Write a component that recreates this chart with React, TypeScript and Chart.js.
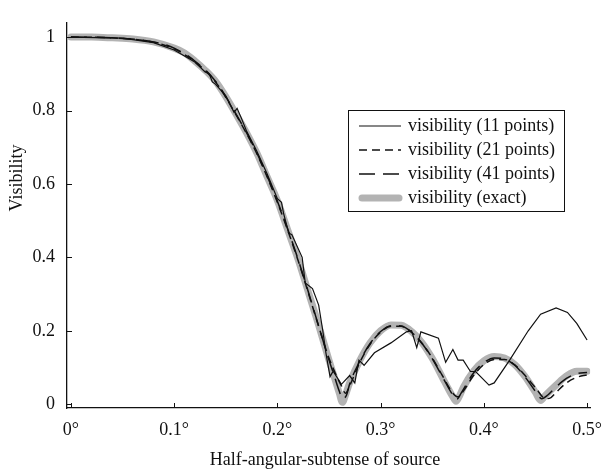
import React, { useEffect, useRef } from "react";
import { Chart, registerables } from "chart.js";

Chart.register(...registerables);

const xTicks = [0, 0.1, 0.2, 0.3, 0.4, 0.5];
const xTickLabels = ["0°", "0.1°", "0.2°", "0.3°", "0.4°", "0.5°"];
const yTicks = [0, 0.2, 0.4, 0.6, 0.8, 1];
const yTickLabels = ["0", "0.2", "0.4", "0.6", "0.8", "1"];

const seriesNames = [
  "visibility (11 points)",
  "visibility (21 points)",
  "visibility (41 points)",
  "visibility (exact)",
];

const exactX = [0, 0.02, 0.04, 0.06, 0.08, 0.1, 0.11, 0.12, 0.13, 0.14, 0.15, 0.16, 0.17, 0.18, 0.19, 0.2, 0.21, 0.22, 0.23, 0.24, 0.25, 0.255, 0.26, 0.263, 0.266, 0.27, 0.28, 0.29, 0.3, 0.31, 0.32, 0.33, 0.34, 0.35, 0.36, 0.365, 0.37, 0.373, 0.376, 0.38, 0.39, 0.4, 0.41, 0.42, 0.43, 0.44, 0.45, 0.455, 0.46, 0.47, 0.48, 0.49, 0.5];
const exactY = [1.0, 1.0, 0.998, 0.995, 0.987, 0.97, 0.957, 0.935, 0.91, 0.88, 0.838, 0.79, 0.74, 0.685, 0.62, 0.555, 0.475, 0.395, 0.305, 0.215, 0.12, 0.075, 0.03, 0.005, 0.025, 0.058, 0.12, 0.168, 0.2, 0.216, 0.215, 0.198, 0.168, 0.125, 0.072, 0.045, 0.02, 0.008, 0.02, 0.045, 0.09, 0.118, 0.13, 0.126, 0.108, 0.075, 0.032, 0.01, 0.025, 0.052, 0.077, 0.09, 0.09];

const pts41X = [0, 0.04, 0.08, 0.1, 0.12, 0.14, 0.16, 0.18, 0.2, 0.22, 0.24, 0.25, 0.255, 0.26, 0.263, 0.267, 0.27, 0.28, 0.29, 0.3, 0.31, 0.32, 0.33, 0.34, 0.35, 0.36, 0.37, 0.374, 0.378, 0.39, 0.4, 0.41, 0.42, 0.43, 0.44, 0.45, 0.456, 0.462, 0.47, 0.48, 0.49, 0.5];
const pts41Y = [1.0, 0.998, 0.987, 0.97, 0.935, 0.88, 0.79, 0.685, 0.553, 0.395, 0.213, 0.12, 0.078, 0.035, 0.015, 0.025, 0.055, 0.118, 0.166, 0.198, 0.214, 0.213, 0.196, 0.166, 0.124, 0.074, 0.025, 0.014, 0.03, 0.085, 0.113, 0.126, 0.123, 0.106, 0.074, 0.035, 0.015, 0.025, 0.047, 0.07, 0.083, 0.086];

const pts21X = [0, 0.04, 0.08, 0.1, 0.12, 0.14, 0.16, 0.18, 0.2, 0.22, 0.24, 0.25, 0.256, 0.262, 0.266, 0.27, 0.28, 0.29, 0.3, 0.31, 0.32, 0.33, 0.34, 0.35, 0.36, 0.37, 0.375, 0.38, 0.39, 0.4, 0.41, 0.42, 0.43, 0.44, 0.45, 0.46, 0.465, 0.47, 0.48, 0.49, 0.5];
const pts21Y = [1.0, 0.998, 0.986, 0.968, 0.933, 0.878, 0.788, 0.683, 0.55, 0.392, 0.212, 0.125, 0.085, 0.05, 0.03, 0.05, 0.115, 0.164, 0.196, 0.212, 0.212, 0.196, 0.166, 0.126, 0.077, 0.03, 0.02, 0.035, 0.078, 0.108, 0.122, 0.122, 0.107, 0.078, 0.045, 0.015, 0.018, 0.032, 0.058, 0.073, 0.08];

const pts11X = [0, 0.05, 0.08, 0.1, 0.12, 0.13, 0.134, 0.137, 0.14, 0.15, 0.155, 0.158, 0.161, 0.165, 0.17, 0.18, 0.19, 0.2, 0.204, 0.206, 0.211, 0.214, 0.224, 0.227, 0.234, 0.24, 0.244, 0.247, 0.251, 0.254, 0.262, 0.27, 0.275, 0.279, 0.284, 0.294, 0.31, 0.325, 0.33, 0.335, 0.339, 0.356, 0.363, 0.37, 0.375, 0.38, 0.387, 0.392, 0.405, 0.41, 0.425, 0.443, 0.455, 0.47, 0.481, 0.49, 0.5];
const pts11Y = [1.0, 0.997, 0.985, 0.965, 0.932, 0.905, 0.9, 0.878, 0.872, 0.84, 0.812, 0.795, 0.806, 0.78, 0.745, 0.69, 0.628, 0.56, 0.55, 0.52, 0.466, 0.462, 0.4, 0.33, 0.315, 0.27, 0.2, 0.14, 0.075, 0.09, 0.054, 0.078, 0.058, 0.12, 0.106, 0.14, 0.167, 0.197, 0.2, 0.154, 0.197, 0.18, 0.114, 0.149, 0.12, 0.12, 0.089, 0.089, 0.052, 0.058, 0.12, 0.2, 0.245, 0.262, 0.25, 0.22, 0.175];

const toPts = (xs: number[], ys: number[]) => xs.map((x, i) => ({ x, y: ys[i] }));

const FONT = "'Liberation Serif', 'DejaVu Serif', serif";
const INK = "#111111";
const GREY = "#b3b3b3";

const legendStyles = [
  { color: INK, width: 1.2, dash: [] as number[], cap: "butt" as CanvasLineCap },
  { color: INK, width: 1.5, dash: [8, 5], cap: "butt" as CanvasLineCap },
  { color: INK, width: 1.5, dash: [16, 8], cap: "butt" as CanvasLineCap },
  { color: GREY, width: 7, dash: [] as number[], cap: "round" as CanvasLineCap },
];

const overlay = {
  id: "overlay",
  afterDraw(chart: any) {
    const ctx: CanvasRenderingContext2D = chart.ctx;
    const xs = chart.scales.x;
    const ys = chart.scales.y;
    ctx.save();
    ctx.strokeStyle = INK;
    ctx.lineWidth = 1;
    xTicks.forEach((v) => {
      const px = Math.round(xs.getPixelForValue(v)) + 0.5;
      ctx.beginPath();
      ctx.moveTo(px, xs.top);
      ctx.lineTo(px, xs.top - 5);
      ctx.stroke();
    });
    yTicks.forEach((v) => {
      const py = Math.round(ys.getPixelForValue(v)) + 0.5;
      ctx.beginPath();
      ctx.moveTo(ys.right, py);
      ctx.lineTo(ys.right + 5, py);
      ctx.stroke();
    });
    ctx.fillStyle = INK;
    ctx.font = `18px ${FONT}`;
    ctx.textAlign = "center";
    ctx.textBaseline = "middle";
    ctx.fillText("Half-angular-subtense of source", 325, 460);
    ctx.save();
    ctx.translate(17, 178);
    ctx.rotate(-Math.PI / 2);
    ctx.fillText("Visibility", 0, 0);
    ctx.restore();
    const lx = 348, ly = 110, lw = 216, lh = 101;
    ctx.fillStyle = "#ffffff";
    ctx.fillRect(lx, ly, lw, lh);
    ctx.strokeStyle = INK;
    ctx.lineWidth = 1;
    ctx.setLineDash([]);
    ctx.strokeRect(lx + 0.5, ly + 0.5, lw, lh);
    ctx.textAlign = "left";
    seriesNames.forEach((name, i) => {
      const cy = ly + 16 + i * 24;
      const st = legendStyles[i];
      ctx.beginPath();
      ctx.strokeStyle = st.color;
      ctx.lineWidth = st.width;
      ctx.lineCap = st.cap;
      ctx.setLineDash(st.dash);
      const x0 = st.cap === "round" ? 362 : 359;
      const x1 = st.cap === "round" ? 399 : 401;
      ctx.moveTo(x0, cy);
      ctx.lineTo(x1, cy);
      ctx.stroke();
      ctx.setLineDash([]);
      ctx.fillStyle = INK;
      ctx.fillText(name, 408, cy);
    });
    ctx.restore();
  },
};

export default function App() {
  const ref = useRef<HTMLCanvasElement | null>(null);
  useEffect(() => {
    if (!ref.current) return;
    const chart = new Chart(ref.current, {
      type: "line",
      data: {
        datasets: [
          {
            label: seriesNames[0],
            data: toPts(pts11X, pts11Y),
            borderColor: INK,
            borderWidth: 1.2,
            pointRadius: 0,
            tension: 0,
            fill: false,
          },
          {
            label: seriesNames[1],
            data: toPts(pts21X, pts21Y),
            borderColor: INK,
            borderWidth: 1.5,
            borderDash: [8, 5],
            pointRadius: 0,
            cubicInterpolationMode: "monotone",
            fill: false,
          },
          {
            label: seriesNames[2],
            data: toPts(pts41X, pts41Y),
            borderColor: INK,
            borderWidth: 1.5,
            borderDash: [16, 8],
            pointRadius: 0,
            cubicInterpolationMode: "monotone",
            fill: false,
          },
          {
            label: seriesNames[3],
            data: toPts(exactX, exactY),
            borderColor: GREY,
            borderWidth: 7,
            borderCapStyle: "round",
            borderJoinStyle: "round",
            pointRadius: 0,
            cubicInterpolationMode: "monotone",
            fill: false,
          },
        ],
      },
      options: {
        responsive: false,
        animation: false,
        layout: { padding: { left: 0, right: 13, top: 5, bottom: 0 } },
        plugins: {
          legend: { display: false },
          tooltip: { enabled: false },
          title: { display: false },
        },
        scales: {
          x: {
            type: "linear",
            min: -0.0038,
            max: 0.503,
            afterBuildTicks: (s: any) => {
              s.ticks = xTicks.map((v) => ({ value: v }));
            },
            afterFit: (s: any) => {
              s.height = 65;
            },
            grid: { display: false, drawTicks: false },
            border: { display: true, color: INK, width: 1.3 },
            ticks: {
              padding: 11,
              color: INK,
              font: { family: FONT, size: 18 },
              maxRotation: 0,
              autoSkip: false,
              callback: (_v: any, i: number) => xTickLabels[i],
            },
          },
          y: {
            type: "linear",
            min: -0.0104,
            max: 1.039,
            afterBuildTicks: (s: any) => {
              s.ticks = yTicks.map((v) => ({ value: v }));
            },
            afterFit: (s: any) => {
              s.width = 67;
            },
            grid: { display: false, drawTicks: false },
            border: { display: true, color: INK, width: 1.3 },
            ticks: {
              padding: 12,
              color: INK,
              font: { family: FONT, size: 18 },
              autoSkip: false,
              callback: (_v: any, i: number) => yTickLabels[i],
            },
          },
        },
      },
      plugins: [overlay],
    });
    return () => chart.destroy();
  }, []);
  return (
    <div style={{ position: "fixed", left: 0, top: 0, width: 613, height: 473, background: "#fff" }}>
      <canvas ref={ref} width={613} height={473} style={{ display: "block" }} />
    </div>
  );
}
